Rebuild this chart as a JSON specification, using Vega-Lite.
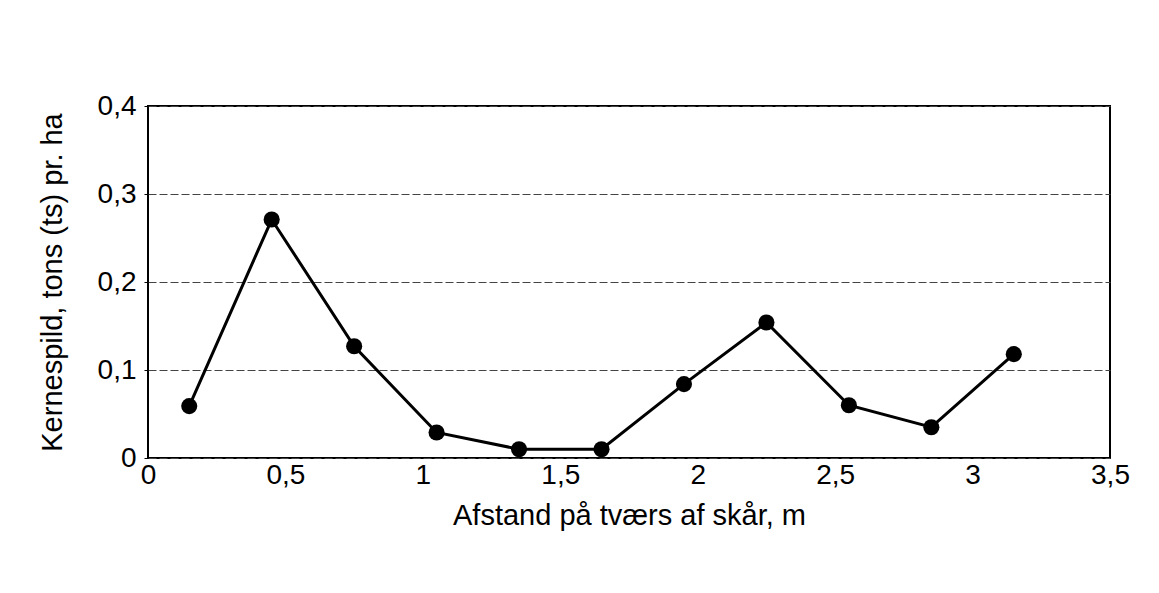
{
  "$schema": "https://vega.github.io/schema/vega-lite/v6.json",
  "width": 962,
  "height": 352,
  "autosize": {"type": "none"},
  "padding": {"left": 148, "top": 106, "right": 49, "bottom": 135},
  "background": "white",
  "config": {
    "font": "Liberation Sans",
    "view": {"stroke": "black", "strokeWidth": 2}
  },
  "data": {
    "values": [
      {"afstand": 0.15, "spild": 0.059},
      {"afstand": 0.45, "spild": 0.271},
      {"afstand": 0.75, "spild": 0.127},
      {"afstand": 1.05, "spild": 0.029},
      {"afstand": 1.35, "spild": 0.010},
      {"afstand": 1.65, "spild": 0.010},
      {"afstand": 1.95, "spild": 0.084},
      {"afstand": 2.25, "spild": 0.154},
      {"afstand": 2.55, "spild": 0.060},
      {"afstand": 2.85, "spild": 0.035},
      {"afstand": 3.15, "spild": 0.118}
    ]
  },
  "encoding": {
    "x": {
      "field": "afstand",
      "type": "quantitative",
      "scale": {"domain": [0, 3.5], "nice": false, "zero": true},
      "axis": {
        "values": [0, 0.5, 1, 1.5, 2, 2.5, 3, 3.5],
        "labelExpr": "replace(toString(datum.value), '.', ',')",
        "grid": false,
        "ticks": false,
        "domain": false,
        "labelFontSize": 28,
        "labelColor": "black",
        "labelPadding": 3,
        "labelFlush": false,
        "title": "Afstand på tværs af skår, m",
        "titleFontSize": 29,
        "titleFontWeight": "normal",
        "titleColor": "black",
        "titlePadding": 12
      }
    },
    "y": {
      "field": "spild",
      "type": "quantitative",
      "scale": {"domain": [0, 0.4], "nice": false},
      "axis": {
        "values": [0, 0.1, 0.2, 0.3, 0.4],
        "labelExpr": "datum.value == 0 ? '0' : replace(format(datum.value, '.1f'), '.', ',')",
        "grid": true,
        "gridColor": "#444444",
        "gridDash": [8, 3],
        "gridWidth": 1,
        "ticks": true,
        "tickSize": 4,
        "tickColor": "black",
        "domain": false,
        "labelFontSize": 28,
        "labelColor": "black",
        "labelPadding": 8,
        "labelFlush": false,
        "title": "Kernespild, tons (ts) pr. ha",
        "titleFontSize": 29,
        "titleFontWeight": "normal",
        "titleColor": "black",
        "titlePadding": 30
      }
    }
  },
  "layer": [
    {"mark": {"type": "line", "color": "black", "strokeWidth": 3}},
    {"mark": {"type": "point", "filled": true, "color": "black", "opacity": 1, "size": 260}}
  ]
}
